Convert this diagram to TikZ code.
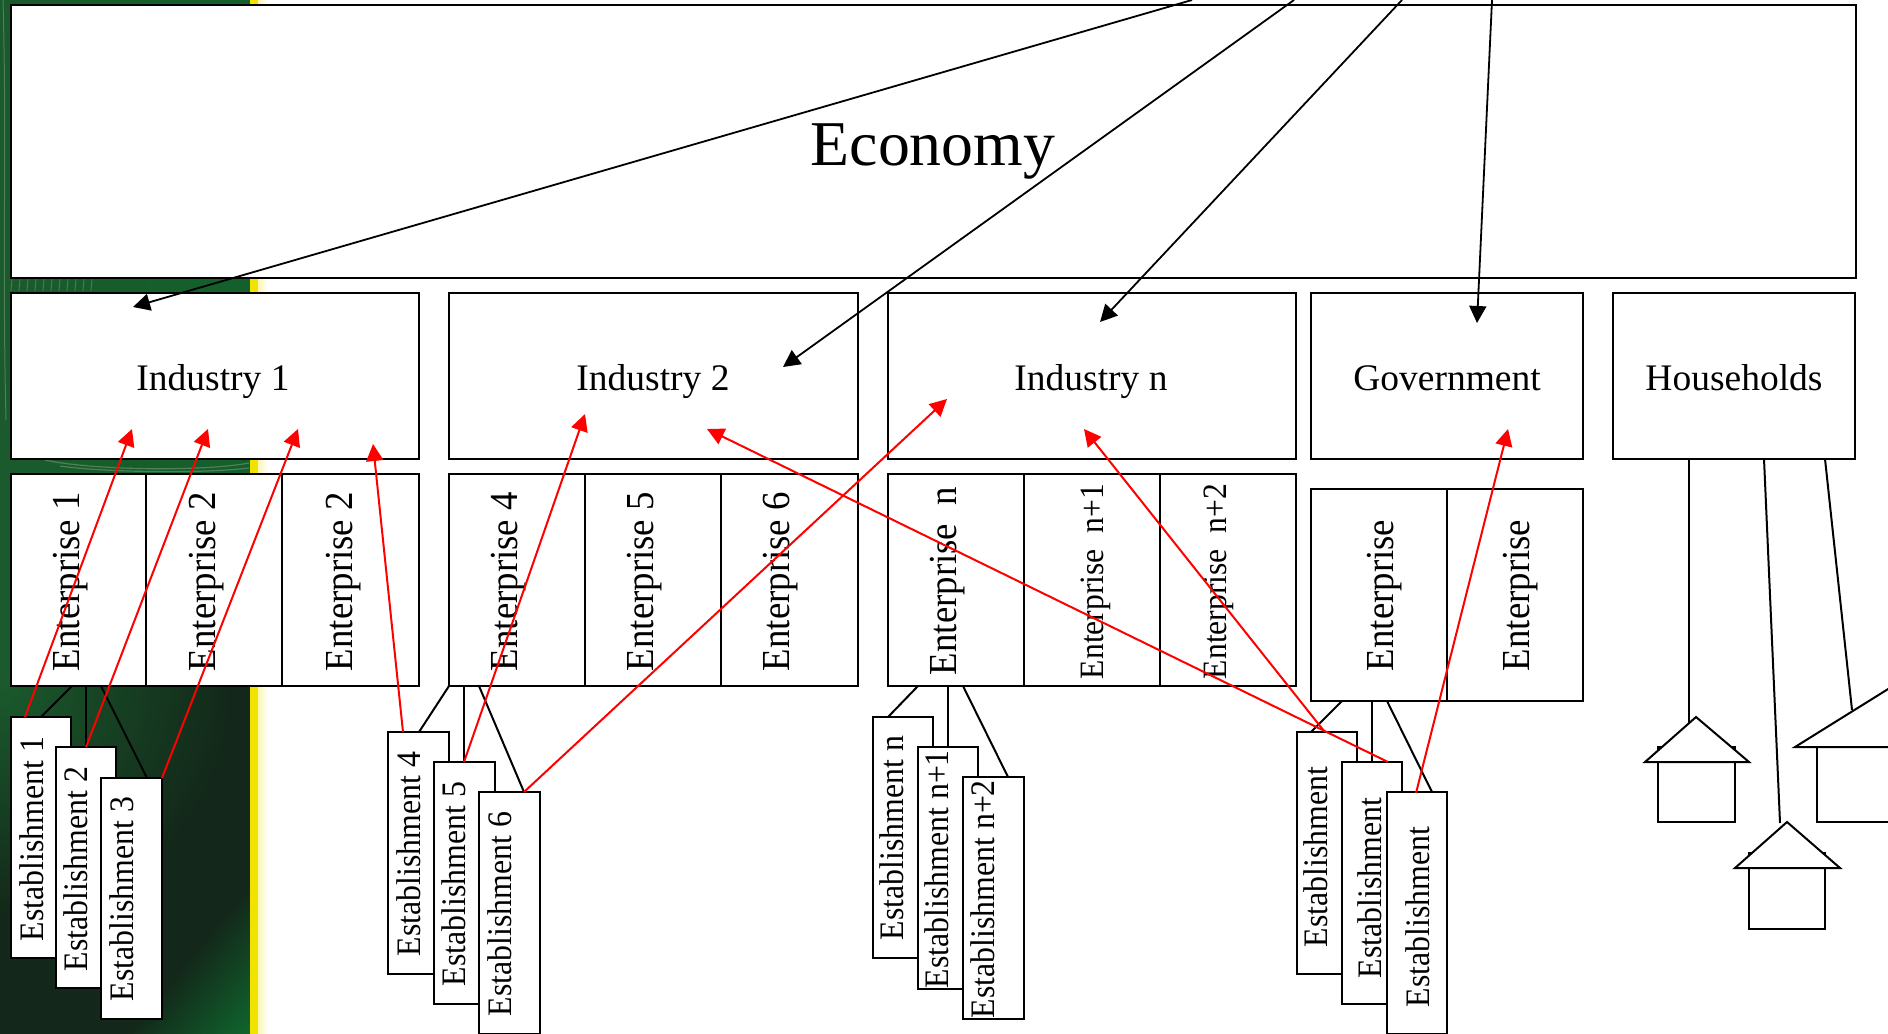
\documentclass[tikz,border=0pt]{standalone}
\usepackage{fontspec}
\setmainfont{Liberation Serif}
\usetikzlibrary{arrows.meta}
\definecolor{gtop}{HTML}{14602C}
\definecolor{gmid}{HTML}{1A5A2C}
\definecolor{gdark}{HTML}{13281A}
\definecolor{gbright}{HTML}{0F6E30}
\definecolor{gsoft}{HTML}{4F8058}
\definecolor{stripe}{HTML}{F2E200}
\newcommand{\rbox}[5]{%
  \pgfmathsetmacro\bw{(#4-#2)*0.5}\pgfmathsetmacro\bh{(#5-#3)*0.5}%
  \node[boxst,minimum width=\bw pt,minimum height=\bh pt] (#1) at ({(#2+#4)/2},{(#3+#5)/2}) {};}
\newcommand{\vtext}[5]{\node[#1,vlabel] (#2) at (#3,#4) {\scalebox{1}[1.08]{#5}};}
\tikzset{
  boxst/.style={draw=black,fill=white,line width=1pt,inner sep=0pt,outer sep=0pt,rectangle},
  vlabel/.style={rotate=90,anchor=base west,inner sep=0pt,outer sep=0pt},
  entf/.style={font=\fontsize{18.4pt}{20pt}\selectfont},
  enss/.style={font=\fontsize{15.8pt}{18pt}\selectfont},
  estf/.style={font=\fontsize{15.9pt}{18pt}\selectfont},
  hlabel/.style={anchor=base,inner sep=0pt,outer sep=0pt,font=\fontsize{18.75pt}{20pt}\selectfont},
  blackarrow/.style={draw=black,line width=0.9pt,-{Triangle[length=8.5pt,width=8.5pt]}},
  redarrow/.style={draw=red,line width=1pt,-{Triangle[length=8.5pt,width=8.5pt]}},
  link/.style={draw=black,line width=1pt},
  house/.style={draw=black,fill=white,line width=1pt,line join=miter},
}
\begin{document}
\begin{tikzpicture}[x=0.5pt,y=-0.5pt]
\useasboundingbox (0,0) rectangle (1888,1033);
% slide background strip
\fill[white] (0,0) rectangle (1888,1033);
\shade[left color=gmid,right color=gtop] (0,-5) rectangle (250,686);
\fill[gdark] (0,686) rectangle (250,1045);
\begin{scope}
\clip (0,686) rectangle (250,1045);
\shade[inner color=gmid,outer color=gdark] (0,686) circle[radius=230];
\foreach \bi in {1,...,30} {
  \pgfmathsetmacro\bd{(\bi-1)*2.5}
  \pgfmathtruncatemacro\bm{\bi*3.3}
  \fill[gbright!\bm!gdark] (130+\bd,1033+\bd) -- (366+\bd,747+\bd) -- (520,1120) -- cycle;
}
\end{scope}
\draw[gsoft,line width=0.6pt] (45,460) .. controls (90,470) and (200,472) .. (249,463);
\draw[gsoft,line width=0.6pt] (60,466) .. controls (100,472) and (200,474) .. (249,468);
\foreach \hx in {12,20,...,92} {\draw[gsoft,line width=0.4pt] (\hx,279) -- (\hx-1,291);}
\draw[gsoft,line width=0.5pt] (3,0) .. controls (7,150) and (2,250) .. (6,420);
\fill[stripe] (250,-5) rectangle (258,1045);
\shade[left color=stripe!30!white,right color=white] (258,-5) rectangle (268,1045);

% connectors behind the boxes
\coordinate (l1a) at (72,686); \coordinate (l1b) at (86,686); \coordinate (l1c) at (101,686);
\coordinate (l1at) at (41,717); \coordinate (l1bt) at (86,747); \coordinate (l1ct) at (147,778);
\coordinate (l2a) at (449,686); \coordinate (l2b) at (464,686); \coordinate (l2c) at (479,686);
\coordinate (l2at) at (419,732); \coordinate (l2bt) at (464,762); \coordinate (l2ct) at (524,792);
\coordinate (l3a) at (918,686); \coordinate (l3b) at (948,686); \coordinate (l3c) at (963,686);
\coordinate (l3at) at (888,717); \coordinate (l3bt) at (948,747); \coordinate (l3ct) at (1008,777);
\coordinate (l4a) at (1342,701); \coordinate (l4b) at (1372,701); \coordinate (l4c) at (1387,701);
\coordinate (l4at) at (1311,732); \coordinate (l4bt) at (1372,762); \coordinate (l4ct) at (1432,792);
\draw[link] (l1a) -- (l1at); \draw[link] (l1b) -- (l1bt); \draw[link] (l1c) -- (l1ct);
\draw[link] (l2a) -- (l2at); \draw[link] (l2b) -- (l2bt); \draw[link] (l2c) -- (l2ct);
\draw[link] (l3a) -- (l3at); \draw[link] (l3b) -- (l3bt); \draw[link] (l3c) -- (l3ct);
\draw[link] (l4a) -- (l4at); \draw[link] (l4b) -- (l4bt); \draw[link] (l4c) -- (l4ct);

% top boxes
\rbox{econ}{11}{5}{1856}{278}
\rbox{ind1}{11}{293}{419}{459}
\rbox{ind2}{449}{293}{858}{459}
\rbox{indn}{888}{293}{1296}{459}
\rbox{gov}{1311}{293}{1583}{459}
\rbox{hh}{1613}{293}{1855}{459}

% enterprises
\rbox{ent1}{11}{474}{146}{686}
\rbox{ent2}{146}{474}{282}{686}
\rbox{ent3}{282}{474}{419}{686}
\rbox{ent4}{449}{474}{585}{686}
\rbox{ent5}{585}{474}{721}{686}
\rbox{ent6}{721}{474}{858}{686}
\rbox{entn}{888}{474}{1024}{686}
\rbox{entna}{1024}{474}{1160}{686}
\rbox{entnb}{1160}{474}{1296}{686}
\rbox{entg}{1311}{489}{1447}{701}
\rbox{entgb}{1447}{489}{1583}{701}

% establishments
\rbox{est1}{11}{717}{71}{958}
\rbox{est2}{56}{747}{116}{988}
\rbox{est3}{101}{778}{162}{1019}
\rbox{est4}{388}{732}{449}{974}
\rbox{est5}{434}{762}{495}{1004}
\rbox{est6}{479}{792}{540}{1034}
\rbox{estn}{873}{717}{933}{958}
\rbox{estna}{918}{747}{978}{989}
\rbox{estnb}{963}{777}{1024}{1019}
\rbox{estg}{1297}{732}{1357}{974}
\rbox{estga}{1342}{762}{1402}{1004}
\rbox{estgb}{1387}{792}{1447}{1034}

% labels
\node[hlabel,font=\fontsize{31.9pt}{34pt}\selectfont] (tecon) at (933,165) {Economy};
\node[hlabel] (tind1) at (213,390) {Industry 1};
\node[hlabel] (tind2) at (653,390) {Industry 2};
\node[hlabel] (tindn) at (1091,390) {Industry n};
\node[hlabel] (tgov) at (1447,390) {Government};
\node[hlabel] (thh) at (1734,390) {Households};

\vtext{entf}{te1}{79}{671}{Enterprise 1}
\vtext{entf}{te2}{215}{671}{Enterprise 2}
\vtext{entf}{te3}{352}{671}{Enterprise 2}
\vtext{entf}{te4}{517}{671}{Enterprise 4}
\vtext{entf}{te5}{653}{671}{Enterprise 5}
\vtext{entf}{te6}{789}{671}{Enterprise 6}
\vtext{entf}{ten}{956}{675}{Enterprise\ \ n}
\vtext{enss}{tena}{1103}{679}{Enterprise\ \ n+1}
\vtext{enss}{tenb}{1226}{679}{Enterprise\ \ n+2}
\vtext{entf}{teg}{1393}{671}{Enterprise}
\vtext{entf}{tega}{1529}{671}{Enterprise}

\vtext{estf}{ts1}{43}{941}{Establishment 1}
\vtext{estf}{ts2}{87}{971}{Establishment 2}
\vtext{estf}{ts3}{133}{1001}{Establishment 3}
\vtext{estf}{ts4}{420}{956}{Establishment 4}
\vtext{estf}{ts5}{465}{986}{Establishment 5}
\vtext{estf}{ts6}{511}{1016}{Establishment 6}
\vtext{estf}{tsn}{903}{940}{Establishment n}
\vtext{estf}{tsna}{948}{988}{Establishment n+1}
\vtext{estf}{tsnb}{994}{1018}{Establishment n+2}
\vtext{estf}{tsg}{1327}{947}{Establishment}
\vtext{estf}{tsga}{1381}{978}{Establishment}
\vtext{estf}{tsgb}{1429}{1007}{Establishment}

% households
\coordinate (hl1) at (1689,459); \coordinate (hl1t) at (1689,724);
\coordinate (hl2) at (1764,459); \coordinate (hl2t) at (1780,823);
\coordinate (hl3) at (1825,459); \coordinate (hl3t) at (1852,710);
\draw[link] (hl1) -- (hl1t);
\draw[link] (hl2) -- (hl2t);
\draw[link] (hl3) -- (hl3t);
\draw[house] (1658,747) rectangle (1735,822);
\draw[house] (1696,717) -- (1749,762) -- (1645,762) -- cycle;
\draw[house] (1749,853) rectangle (1825,929);
\draw[house] (1787,822) -- (1840,868) -- (1735,868) -- cycle;
\draw[house] (1817,747) rectangle (1983,822);
\draw[house] (1900,681.6) -- (2006,747) -- (1795,747) -- cycle;

% arrows from the economy
\coordinate (a1s) at (1192,0); \coordinate (a1t) at (133,307);
\coordinate (a2s) at (1294,0); \coordinate (a2t) at (783,367);
\coordinate (a3s) at (1402,0); \coordinate (a3t) at (1100,322);
\coordinate (a4s) at (1492,0); \coordinate (a4t) at (1477,323);
\draw[blackarrow] (a1s) -- (a1t);
\draw[blackarrow] (a2s) -- (a2t);
\draw[blackarrow] (a3s) -- (a3t);
\draw[blackarrow] (a4s) -- (a4t);

% red arrows
\coordinate (r1s) at (25,717); \coordinate (r1t) at (132,429);
\coordinate (r2s) at (86,747); \coordinate (r2t) at (208,429);
\coordinate (r3s) at (162,778); \coordinate (r3t) at (298,429);
\coordinate (r4s) at (403,732); \coordinate (r4t) at (373,444);
\coordinate (r5s) at (464,762); \coordinate (r5t) at (585,414);
\coordinate (r6s) at (524,792); \coordinate (r6t) at (947,399);
\coordinate (r7s) at (1388,762); \coordinate (r7t) at (707,429);
\coordinate (r8s) at (1324,731); \coordinate (r8t) at (1084,429);
\coordinate (r9s) at (1416,793); \coordinate (r9t) at (1508,429);
\foreach \ra in {1,...,9} {\draw[redarrow] (r\ra s) -- (r\ra t);}
\end{tikzpicture}
\end{document}
